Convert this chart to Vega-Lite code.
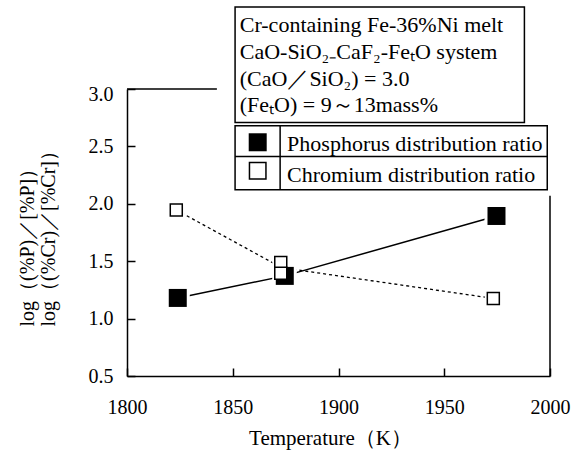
{
  "$schema": "https://vega.github.io/schema/vega-lite/v6.json",
  "width": 423,
  "height": 287,
  "autosize": {"type": "none"},
  "padding": {"left": 127, "top": 89, "right": 28, "bottom": 81},
  "background": "white",
  "config": {
    "view": {"stroke": null},
    "font": "Liberation Serif",
    "axis": {
      "labelFont": "Liberation Serif",
      "labelFontSize": 20,
      "labelColor": "black",
      "titleFont": "Liberation Serif",
      "titleFontSize": 20,
      "titleFontWeight": "normal",
      "titleColor": "black",
      "domainColor": "black",
      "domainWidth": 1.5,
      "tickColor": "black",
      "tickWidth": 1.5,
      "grid": false
    }
  },
  "datasets": {
    "pts": [
      {"series": "Phosphorus", "x": 1824.0, "y": 1.18},
      {"series": "Phosphorus", "x": 1874.6, "y": 1.372},
      {"series": "Phosphorus", "x": 1974.7, "y": 1.894},
      {"series": "Chromium", "x": 1823.3, "y": 1.946},
      {"series": "Chromium", "x": 1872.7, "y": 1.488},
      {"series": "Chromium", "x": 1872.7, "y": 1.394},
      {"series": "Chromium", "x": 1973.2, "y": 1.176}
    ],
    "lines": [
      {"series": "Phosphorus", "x": 1824.0, "y": 1.18},
      {"series": "Phosphorus", "x": 1874.6, "y": 1.372},
      {"series": "Phosphorus", "x": 1974.7, "y": 1.894},
      {"series": "Chromium", "x": 1823.3, "y": 1.946},
      {"series": "Chromium", "x": 1873.1, "y": 1.444},
      {"series": "Chromium", "x": 1973.2, "y": 1.176}
    ],
    "boxes": [
      {"x": 1851.1, "x2": 1987.9, "y": 2.709, "y2": 3.715},
      {"x": 1851.1, "x2": 1998.7, "y": 2.122, "y2": 2.68}
    ],
    "rules": [
      {"x": 1800, "x2": 1842.5, "y": 3.0, "y2": 3.0},
      {"x": 2000, "x2": 2000, "y": 0.5, "y2": 2.07},
      {"x": 1851.1, "x2": 1998.7, "y": 2.412, "y2": 2.412},
      {"x": 1872.4, "x2": 1872.4, "y": 2.122, "y2": 2.68}
    ],
    "notes": [
      {"x": 1853.3, "y": 3.497, "label": "Cr-containing Fe-36%Ni melt"},
      {"x": 1853.3, "y": 3.262, "label": "CaO-SiO₂₋CaF₂-FeₜO system"},
      {"x": 1853.3, "y": 3.029, "label": "(CaO／SiO₂) = 3.0"},
      {"x": 1853.3, "y": 2.796, "label": "(FeₜO) = 9～13mass%"},
      {"x": 1875.7, "y": 2.456, "label": "Phosphorus distribution ratio"},
      {"x": 1875.7, "y": 2.194, "label": "Chromium distribution ratio"}
    ],
    "syms": [
      {"kind": "Phosphorus", "x": 1861.8, "y": 2.536},
      {"kind": "Chromium", "x": 1861.8, "y": 2.288}
    ]
  },
  "encoding": {
    "x": {
      "field": "x",
      "type": "quantitative",
      "scale": {"domain": [1800, 2000], "nice": false, "zero": false},
      "axis": {
        "values": [1800, 1850, 1900, 1950, 2000],
        "format": "d",
        "labelFlush": false,
        "title": "Temperature（K）",
        "tickSize": -8,
        "labelPadding": 29,
        "titleX": 203,
        "titleY": 62,
        "titleBaseline": "middle",
        "titleFontSize": 21
      }
    },
    "y": {
      "field": "y",
      "type": "quantitative",
      "scale": {"domain": [0.5, 3.0], "nice": false, "zero": false},
      "axis": {
        "values": [0.5, 1.0, 1.5, 2.0, 2.5, 3.0],
        "format": ".1f",
        "labelFlush": false,
        "title": ["log（(%P)／[%P]）", "log（(%Cr)／[%Cr]）"],
        "tickSize": -8,
        "labelPadding": 22,
        "labelOffset": {"condition": {"test": "datum.value == 3", "value": 5}, "value": 0},
        "titleAngle": 270,
        "titleAlign": "left",
        "titleBaseline": "top",
        "titleX": -110,
        "titleY": 237,
        "titleLineHeight": 21
      }
    }
  },
  "layer": [
    {
      "data": {"name": "lines"},
      "transform": [{"filter": "datum.series == 'Phosphorus'"}],
      "mark": {"type": "line", "color": "black", "strokeWidth": 1.5}
    },
    {
      "data": {"name": "lines"},
      "transform": [{"filter": "datum.series == 'Chromium'"}],
      "mark": {"type": "line", "color": "black", "strokeWidth": 1.3, "strokeDash": [3, 3]}
    },
    {
      "data": {"name": "pts"},
      "transform": [{"filter": "datum.series == 'Phosphorus'"}],
      "mark": {"type": "point", "shape": "square", "filled": true, "color": "white", "opacity": 1, "size": 576}
    },
    {
      "data": {"name": "pts"},
      "transform": [{"filter": "datum.series == 'Chromium'"}],
      "mark": {"type": "point", "shape": "square", "filled": true, "color": "white", "opacity": 1, "size": 289}
    },
    {
      "data": {"name": "pts"},
      "transform": [{"filter": "datum.series == 'Phosphorus'"}],
      "mark": {"type": "point", "shape": "square", "filled": true, "color": "black", "opacity": 1, "size": 324}
    },
    {
      "data": {"name": "pts"},
      "transform": [{"filter": "datum.series == 'Chromium'"}],
      "mark": {"type": "point", "shape": "square", "filled": true, "fill": "white", "stroke": "black", "strokeWidth": 1.5, "opacity": 1, "size": 144}
    },
    {
      "data": {"name": "boxes"},
      "mark": {"type": "rect", "fill": "white", "stroke": "black", "strokeWidth": 1.5},
      "encoding": {"x2": {"field": "x2"}, "y2": {"field": "y2"}}
    },
    {
      "data": {"name": "rules"},
      "mark": {"type": "rule", "color": "black", "strokeWidth": 1.5},
      "encoding": {"x2": {"field": "x2"}, "y2": {"field": "y2"}}
    },
    {
      "data": {"name": "notes"},
      "mark": {"type": "text", "align": "left", "baseline": "alphabetic", "fontSize": 22, "color": "black", "font": "Liberation Serif"},
      "encoding": {"text": {"field": "label"}}
    },
    {
      "data": {"name": "syms"},
      "transform": [{"filter": "datum.kind == 'Phosphorus'"}],
      "mark": {"type": "point", "shape": "square", "filled": true, "color": "black", "opacity": 1, "size": 324}
    },
    {
      "data": {"name": "syms"},
      "transform": [{"filter": "datum.kind == 'Chromium'"}],
      "mark": {"type": "point", "shape": "square", "filled": true, "fill": "white", "stroke": "black", "strokeWidth": 1.5, "opacity": 1, "size": 272}
    }
  ]
}
